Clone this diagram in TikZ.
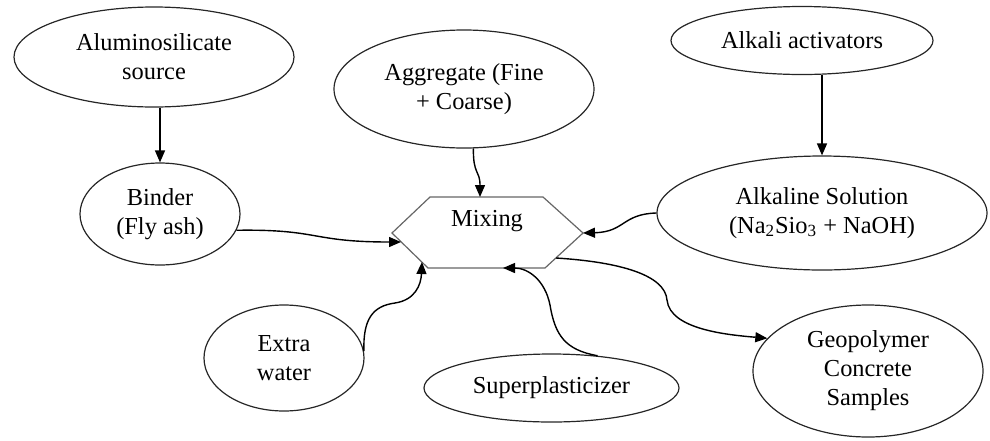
\documentclass[tikz,border=0pt]{standalone}
\usepackage{fontspec}
\setmainfont{Liberation Serif}
\usetikzlibrary{shapes.geometric,arrows.meta}
\tikzset{
  oval/.style={draw=black!85, line width=0.6pt, ellipse, inner sep=0pt, align=center,
    font=\fontsize{12.2}{14.5}\selectfont},
  arr/.style={draw=black, line width=0.7pt, -{Triangle[length=6pt,width=5pt]}},
  hexline/.style={draw=black!60, line width=0.6pt},
}
\begin{document}
\begin{tikzpicture}[x=0.5pt,y=-0.5pt]
\useasboundingbox (0,0) rectangle (990,440);
% ellipses
\node[oval, minimum width=140pt, minimum height=50pt] (alu) at (154,57) {Aluminosilicate\\source};
\node[oval, minimum width=80pt, minimum height=51pt] (bin) at (160,214) {Binder\\(Fly ash)};
\node[oval, minimum width=130pt, minimum height=59pt] (agg) at (464,89) {Aggregate (Fine\\+ Coarse)};
\node[oval, minimum width=131pt, minimum height=34pt] (alk) at (802,40.5) {Alkali activators};
\node[oval, minimum width=165pt, minimum height=57pt] (sol) at (822,213) {Alkaline Solution\\(Na\textsubscript{2}Sio\textsubscript{3} + NaOH)};
\node[oval, minimum width=80pt, minimum height=53pt] (wat) at (284,358) {Extra\\water};
\node[oval, minimum width=127.5pt, minimum height=34pt] (sup) at (551.5,388) {Superplasticizer};
\node[oval, minimum width=115pt, minimum height=66pt] (geo) at (868,371) {Geopolymer\\Concrete\\Samples};
% mixing hexagon
\draw[hexline] (392,233) -- (430,197) -- (543,197) -- (583,233) -- (545,268) -- (428,268) -- cycle;
\node[font=\fontsize{12.2}{14.5}\selectfont, inner sep=0pt] (mix) at (487,221) {Mixing};
\coordinate (mT) at (480,197);
\coordinate (mL) at (401,242);
\coordinate (mLL) at (422,262);
\coordinate (mB) at (503,268);
\coordinate (mR) at (583,233);
\coordinate (mRR) at (556,258);
% connectors
\draw[arr] (alu.south -| bin.north) -- (bin.north);
\draw[arr] (alk.south -| sol.north) -- (sol.north);
\draw[arr] (bin.-12) .. controls (320,229) and (310,242) .. (mL);
\draw[arr] (agg.-81) .. controls (473,175) and (480,170) .. (mT);
\draw[arr] (sol.west) .. controls (622,214) and (625,232) .. (mR);
\draw[arr] (wat.5) .. controls (363,320) and (372,306) .. (395,303) .. controls (415,300) and (421,285) .. (mLL);
\draw[arr] (sup.35) .. controls (565,350) and (555,335) .. (550,305) .. controls (545,280) and (528,268) .. (mB);
\draw[arr] (mRR) .. controls (620,262) and (665,275) .. (667,300) .. controls (670,330) and (730,335) .. (geo.162);
\end{tikzpicture}
\end{document}
